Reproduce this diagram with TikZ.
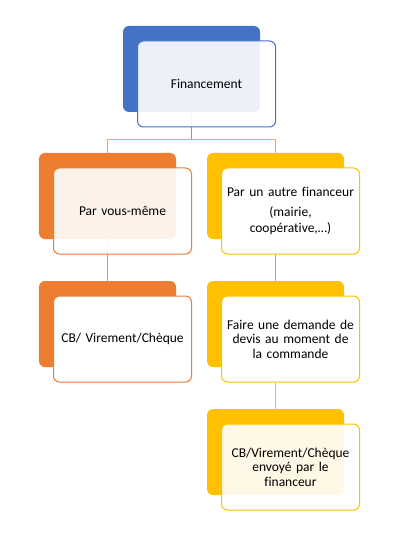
\documentclass[tikz,border=0pt]{standalone}
\usepackage{fontspec}
\setmainfont{Carlito}[Ligatures=NoCommon]
\definecolor{cblue}{HTML}{4472C4}
\definecolor{corange}{HTML}{ED7D31}
\definecolor{cyellow}{HTML}{FFC000}
\definecolor{cgray}{HTML}{A5A5A5}
\definecolor{cpeach}{HTML}{F4A470}
\definecolor{ctext}{HTML}{000000}
\begin{document}
\begin{tikzpicture}[x=1bp,y=-1bp,
  backbox/.style={rounded corners=6bp, minimum width=137bp, minimum height=86bp, inner sep=0pt, outer sep=0pt},
  frontbox/.style={rounded corners=6bp, minimum width=138bp, minimum height=86bp, inner sep=2pt, outer sep=0pt,
     line width=1bp, align=center, text width=132bp, text=ctext,
     font=\fontsize{13.5bp}{14.5bp}\selectfont, text opacity=1},
  conn/.style={line width=1.5bp}
]
\fill[white] (0,0) rectangle (403,539);
\useasboundingbox (0,0) rectangle (403,539);

% back boxes
\node[backbox, fill=cblue]   (b1)  at (191.5,69)  {};
\node[backbox, fill=corange] (b2l) at (107.5,196) {};
\node[backbox, fill=cyellow] (b2r) at (275.5,196) {};
\node[backbox, fill=corange] (b3l) at (107.5,324) {};
\node[backbox, fill=cyellow] (b3r) at (275.5,324) {};
\node[backbox, fill=cyellow] (b4r) at (275.5,452) {};

% connectors
\coordinate (j1) at (191.5,139.5);
\draw[conn, draw=corange] (b1.south) -- (j1);
\draw[conn, draw=cpeach] (j1) -| (b2l.north);
\draw[conn, draw=cpeach] (j1) -| (b2r.north);
\draw[conn, draw=cgray] (b2l.south) -- (b3l.north);
\draw[conn, draw=cgray] (b2r.south) -- (b3r.north);
\draw[conn, draw=cyellow] (b3r.south) -- (b4r.north);

% front boxes
\node[frontbox, draw=cblue, fill=white, fill opacity=0.9] (f1) at (206.5,84) {Financement};
\node[frontbox, draw=corange, fill=white, fill opacity=0.9] (f2l) at (122.5,211) {Par vous-même};
\node[frontbox, draw=cyellow, fill=white] (f2r) at (290.5,211) {Par un autre financeur\\[5.5bp](mairie,\\[1.5bp]coopérative,…)};
\node[frontbox, draw=corange, fill=white] (f3l) at (122.5,339) {CB/ Virement/Chèque};
\node[frontbox, draw=cyellow, fill=white] (f3r) at (290.5,339) {Faire une demande de\\devis au moment de\\la commande};
\node[frontbox, draw=cyellow, fill=white, fill opacity=0.9] (f4r) at (290.5,467) {CB/Virement/Chèque\\envoyé par le\\financeur};
\end{tikzpicture}
\end{document}
